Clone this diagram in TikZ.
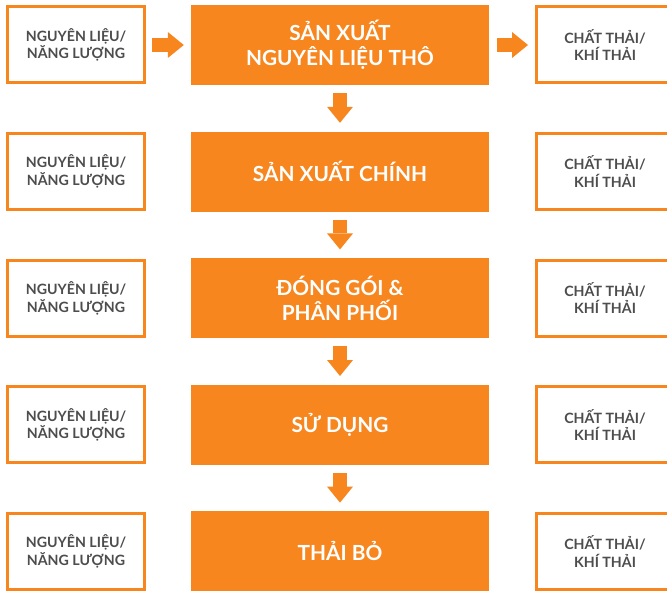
\documentclass[tikz,border=0pt]{standalone}
\usepackage{fontspec}
\setmainfont{Lato}
\usetikzlibrary{arrows.meta}
\definecolor{cam}{RGB}{247,134,31}
\definecolor{chuxam}{RGB}{77,77,77}

\begin{document}
\begin{tikzpicture}[x=1pt,y=-1pt]
\tikzstyle{hop} = [draw=cam, line width=3pt, fill=white, minimum width=137pt, minimum height=76pt, inner sep=0, align=center, text=chuxam, font=\fontsize{14.2}{17.5}\selectfont\bfseries]
\tikzstyle{chinh} = [fill=cam, minimum width=298pt, minimum height=80pt, inner sep=0, align=center, text=white, font=\fontsize{20.8}{25}\selectfont\bfseries]
\tikzstyle{muiten} = [draw=cam, line width=14pt, -{Triangle[length=16pt,width=26pt,line width=0pt]}]

\useasboundingbox (0,0) rectangle (667,594);
\clip (0,0) rectangle (667,594);

% Cac buoc chinh
\foreach \i/\txt in {1/{SẢN XUẤT\\NGUYÊN LIỆU THÔ}, 2/SẢN XUẤT CHÍNH, 3/{ĐÓNG GÓI \&\\PHÂN PHỐI}, 4/SỬ DỤNG, 5/THẢI BỎ} {

  % toa do hang
  \pgfmathsetmacro{\y}{45+126.6*(\i-1)}

  \node[chinh] (buoc-\i) at (340,\y) {\txt};
  \node[hop] (vao-\i) at (76,\y) {NGUYÊN LIỆU/\\NĂNG LƯỢNG};
  \node[hop] (ra-\i) at (605,\y) {CHẤT THẢI/\\KHÍ THẢI};
}

% --- Mui ten ngang (chi hang dau) ---
\draw[muiten, shorten <=6pt, shorten >=7pt] (vao-1.east) -- (buoc-1.west);
\draw[muiten, shorten <=8pt, shorten >=7pt] (buoc-1.east) -- (ra-1.west);

% --- Mui ten doc ---
\foreach \i in {1,...,4} {
  \pgfmathtruncatemacro{\j}{\i+1}
  \draw[muiten, shorten <=8pt, shorten >=8.6pt] (buoc-\i.south) -- (buoc-\j.north);
}

\end{tikzpicture}
\end{document}
